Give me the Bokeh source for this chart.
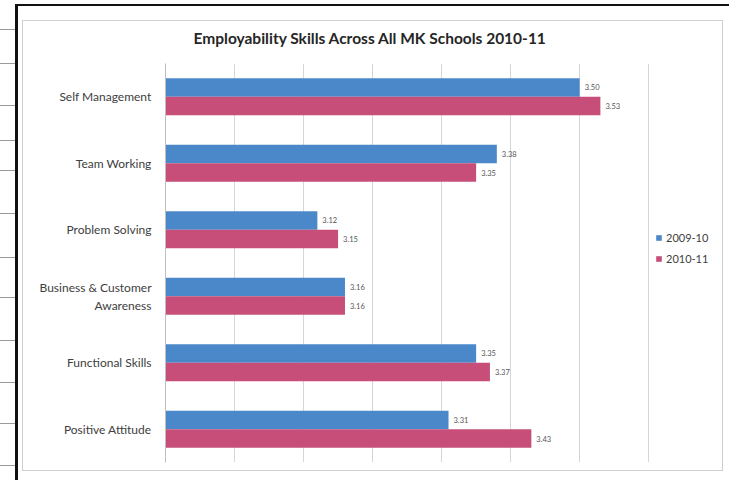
from bokeh.plotting import figure
from bokeh.models import (ColumnDataSource, FactorRange, Legend, LegendItem, LabelSet,
                          FixedTicker)
from bokeh.core.properties import value
from bokeh.transform import dodge
from bokeh.embed import file_html
from bokeh.resources import INLINE

categories = ["Self Management", "Team Working", "Problem Solving",
              "Business & Customer\nAwareness", "Functional Skills", "Positive Attitude"]
series_names = ["2009-10", "2010-11"]
values_2009_10 = [3.50, 3.38, 3.12, 3.16, 3.35, 3.31]
values_2010_11 = [3.53, 3.35, 3.15, 3.16, 3.37, 3.43]
x_ticks = [2.9, 3.0, 3.1, 3.2, 3.3, 3.4, 3.5, 3.6]
title_text = "Employability Skills Across All MK Schools 2010-11"

BLUE = "#4B88C9"
RED = "#C64E78"
FONT = "Lato"

src = ColumnDataSource(dict(
    cat=categories,
    v1=values_2009_10,
    v2=values_2010_11,
    l1=[f"{v:.2f}" for v in values_2009_10],
    l2=[f"{v:.2f}" for v in values_2010_11],
))

# the plot area runs a little past the last gridline so that the legend fits inside it
x_end = x_ticks[-1] + 0.104

p = figure(width=729, height=480, output_backend="svg", toolbar_location=None,
           y_range=FactorRange(factors=list(reversed(categories)), range_padding=0),
           x_range=(x_ticks[0], x_end),
           min_border_left=165, min_border_right=9, min_border_top=63, min_border_bottom=18)

p.title.text = title_text
p.title.text_font = FONT
p.title.text_font_size = "15.5px"
p.title.text_font_style = "bold"
p.title.text_color = "#262626"
p.title.align = "left"
p.title.offset = 28
p.title.standoff = 34

base = x_ticks[0]
r1 = p.hbar(y=dodge("cat", 0.14, range=p.y_range), left=base, right="v1", height=0.28,
            source=src, fill_color=BLUE, line_color=None)
r2 = p.hbar(y=dodge("cat", -0.14, range=p.y_range), left=base, right="v2", height=0.28,
            source=src, fill_color=RED, line_color=None)

for col, lab, off in (("v1", "l1", 0.14), ("v2", "l2", -0.14)):
    p.add_layout(LabelSet(x=col, y=dodge("cat", off, range=p.y_range), text=lab, source=src,
                          x_offset=5, text_baseline="middle", text_font=value(FONT),
                          text_font_size=value("7.5px"), text_color=value("#555555")))

p.xaxis.visible = False
p.xgrid.ticker = FixedTicker(ticks=x_ticks)
p.xgrid.grid_line_color = "#d6d6d6"
p.ygrid.visible = False
p.outline_line_color = None
p.background_fill_color = "white"
p.border_fill_alpha = 0

ax = p.yaxis[0]
ax.axis_line_color = "#bfbfbf"
ax.major_tick_line_color = None
ax.minor_tick_line_color = None
ax.major_label_text_font = FONT
ax.major_label_text_font_size = "12px"
ax.major_label_text_color = "#404040"
ax.major_label_standoff = 8

legend = Legend(items=[LegendItem(label=series_names[0], renderers=[r1]),
                       LegendItem(label=series_names[1], renderers=[r2])],
                location=(490, 194), orientation="vertical",
                glyph_width=7, glyph_height=7, label_standoff=4, spacing=1, label_height=20,
                label_text_font=FONT, label_text_font_size="11px", label_text_color="#404040",
                padding=0, margin=0, border_line_color=None, background_fill_alpha=0)
p.add_layout(legend)

# scanned page frame and chart box, painted behind the transparent canvas border
layers = []
def line(x, y, w, h, color):
    layers.append((color, x, y, w, h))

line(15, 4, 3, 476, "#111111")       # black frame, left
line(15, 4, 714, 2, "#111111")       # black frame, top
line(22, 20, 700, 1, "#cfcfcf")      # chart box
line(22, 470, 700, 1, "#cfcfcf")
line(22, 20, 1, 451, "#cfcfcf")
line(722, 20, 1, 451, "#cfcfcf")
for yy in (29, 63, 105, 140, 170, 213, 257, 297, 340, 382, 423, 465):
    line(0, yy, 15, 1, "#9a9a9a")    # edge of the neighbouring table

p.styles = {
    "background-color": "white",
    "background-image": ", ".join(f"linear-gradient({c}, {c})" for c, *_ in layers),
    "background-position": ", ".join(f"{x}px {y}px" for _, x, y, _w, _h in layers),
    "background-size": ", ".join(f"{w}px {h}px" for *_, w, h in layers),
    "background-repeat": "no-repeat",
}

open("out.html", "w").write(file_html(p, INLINE))
